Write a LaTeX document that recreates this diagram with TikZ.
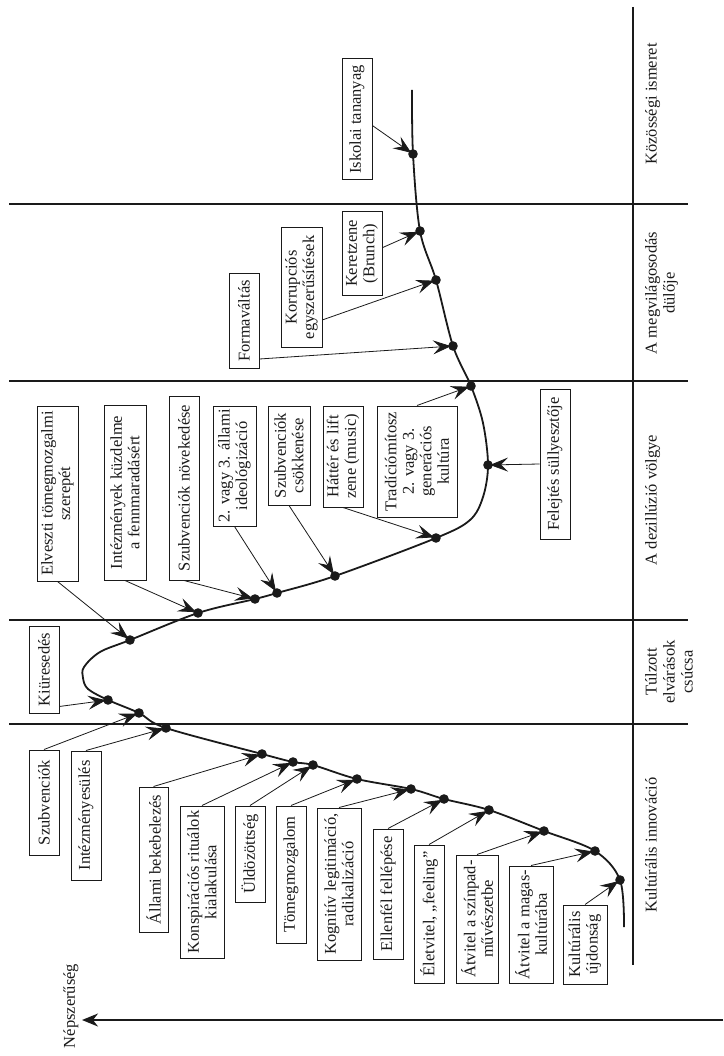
\documentclass[tikz,border=0pt]{standalone}
\usepackage{fontspec}
\setmainfont{Liberation Serif}
\usetikzlibrary{arrows.meta,calc}
\definecolor{ink}{HTML}{1A1A1A}
\begin{document}
\begin{tikzpicture}[x=1pt,y=-1pt,
  lbl/.style={draw=ink, line width=1pt, rotate=90, align=center, inner sep=2pt,
    font=\fontsize{16.5}{17.5}\selectfont, text=ink},
  stage/.style={rotate=90, align=center, anchor=north, inner sep=0pt,
    font=\fontsize{16.5}{18}\selectfont, text=ink},
  conn/.style={draw=ink, line width=0.8pt, -{Stealth[length=18pt,width=14pt,inset=7pt]}, shorten >=2pt},
  frame/.style={draw=ink, line width=1.5pt},
  curve/.style={draw=ink, line width=1.8pt}]
\useasboundingbox (0,0) rectangle (723,1056);
\fill[white] (0,0) rectangle (723,1056);

% frame lines
\draw[frame] (633,7) -- (633,965);
\foreach \yy in {204,381,620,724} \draw[frame] (9,\yy) -- (688,\yy);
\coordinate (axR) at (723,1020);
\coordinate (axL) at (82,1020);
\draw[frame, -{Stealth[length=16pt,width=13pt,inset=5pt]}] (axR) -- (axL);
\node[stage, anchor=center] (pop) at (71,1006) {Népszerűség};

% stage labels
\node[stage] (s1) at (645,104) {Közösségi ismeret};
\node[stage] (s2) at (645,293) {A megvilágosodás\\dülője};
\node[stage] (s3) at (645,500) {A dezillúzió völgye};
\node[stage] (s4) at (645,672) {Túlzott\\elvárások\\csúcsa};
\node[stage] (s5) at (645,845) {Kultúrális innováció};

% curve points
\coordinate (c0) at (412,90);
\coordinate (d1) at (413,154);
\coordinate (d2) at (420,231);
\coordinate (d3) at (436,280);
\coordinate (d4) at (453,346);
\coordinate (d5) at (471,386);
\coordinate (d6) at (488,465);
\coordinate (d7) at (436,538);
\coordinate (d8) at (335,576);
\coordinate (d9) at (277,593);
\coordinate (d10) at (255,599);
\coordinate (d11) at (198,613);
\coordinate (d12) at (130,640);
\coordinate (d13) at (108,700);
\coordinate (d14) at (139,713);
\coordinate (d15) at (166,728);
\coordinate (d16) at (262,754);
\coordinate (d17) at (293,762);
\coordinate (d18) at (313,765);
\coordinate (d19) at (357,779);
\coordinate (d20) at (411,789);
\coordinate (d21) at (444,799);
\coordinate (d22) at (489,810);
\coordinate (d23) at (544,831);
\coordinate (d24) at (595,851);
\coordinate (d25) at (620,880);
\coordinate (c1) at (624,927);

\draw[curve] plot[smooth, tension=0.55] coordinates {
 (c0) (d1) (d2) (d3) (d4) (d5) (483,423) (d6) (483,497) (470,520) (d7) (d8) (d9) (d10) (d11) (d12)
 (100,652) (84,667) (83,678) (88,689) (d13) (d14) (d15) (d16) (d17) (d18) (d19) (d20) (d21) (d22) (d23) (d24) (d25) (c1)};
\foreach \i in {1,...,25} \fill[ink] (d\i) circle (4.8pt);

% label boxes
\node[lbl, minimum width=105pt, minimum height=30pt] (b14) at (44,802.5) {Szubvenciók};
\node[lbl, minimum width=129pt, minimum height=30pt] (b15) at (86,815.5) {Intézményesülés};
\node[lbl, minimum width=87pt, minimum height=30pt] (b13) at (44,669.5) {Kiüresedés};
\node[lbl, minimum width=145pt, minimum height=29pt] (b16) at (153.5,859.5) {Állami bekebelezés};
\node[lbl, minimum width=152pt, minimum height=44pt] (b17) at (202,882) {Konspirációs rituálok\\kialakulása};
\node[lbl, minimum width=96pt, minimum height=30pt] (b18) at (250,854) {Üldözöttség};
\node[lbl, minimum width=137pt, minimum height=30pt] (b19) at (291,874.5) {Tömegmozgalom};
\node[lbl, minimum width=152pt, minimum height=44pt] (b20) at (339,884) {Kognitív legitimáció,\\radikalizáció};
\node[lbl, minimum width=130pt, minimum height=30pt] (b21) at (388,894) {Ellenfél fellépése};
\node[lbl, minimum width=138pt, minimum height=30pt] (b22) at (429,914) {Életvitel, „feeling”};
\node[lbl, minimum width=128pt, minimum height=42pt] (b23) at (477,919) {Átvitel a színpad-\\művészetbe};
\node[lbl, minimum width=117pt, minimum height=44pt] (b24) at (531,924.5) {Átvitel a magas-\\kultúrába};
\node[lbl, minimum width=79pt, minimum height=44pt] (b25) at (585,944.5) {Kultúrális\\újdonság};
\node[lbl, minimum width=175pt, minimum height=41pt] (b12) at (57.5,493.5) {Elveszti tömegmozgalmi\\szerepét};
\node[lbl, minimum width=175pt, minimum height=42pt] (b11) at (125,492.5) {Intézmények küzdelme\\a fennmaradásért};
\node[lbl, minimum width=184pt, minimum height=30pt] (b10) at (184,488) {Szubvenciók növekedése};
\node[lbl, minimum width=120pt, minimum height=43pt] (b9) at (234.5,466) {2. vagy 3. állami\\ideológizáció};
\node[lbl, minimum width=99pt, minimum height=42pt] (b8) at (289,455.5) {Szubvenciók\\csökkenése};
\node[lbl, minimum width=101pt, minimum height=40pt] (b7) at (343,456.5) {Háttér és lift\\zene (music)};
\node[lbl, minimum width=111pt, minimum height=80pt] (b5) at (417,461.5) {Tradíciómítosz\\2. vagy 3.\\generációs\\kultúra};
\node[lbl, minimum width=150pt, minimum height=30pt] (b6) at (555,464) {Felejtés süllyesztője};
\node[lbl, minimum width=94pt, minimum height=30pt] (b4) at (244,321) {Formaváltás};
\node[lbl, minimum width=119pt, minimum height=41pt] (b3) at (301.5,287.5) {Korrupciós\\egyszerűsítések};
\node[lbl, minimum width=83pt, minimum height=40pt] (b2) at (362,253.5) {Keretzene\\(Brunch)};
\node[lbl, minimum width=121pt, minimum height=30pt] (b1) at (357,119.5) {Iskolai tananyag};

% connectors
\foreach \i in {14,15,16,17,18,19,20,21,22,23,24,25,5} \draw[conn] (b\i.east) -- (d\i);
\foreach \i in {12,11,10,9,8,7} \draw[conn] (b\i.west) -- (d\i);
\draw[conn] (b6.north) -- (d6);
\draw[conn] ($(b13.south west)!0.08!(b13.south east)$) -- (d13);
\draw[conn] ($(b4.south west)!0.1!(b4.south east)$) -- (d4);
\draw[conn] ($(b3.south west)!0.23!(b3.south east)$) -- (d3);
\draw[conn] ($(b2.south west)!0.57!(b2.south east)$) -- (d2);
\draw[conn] ($(b1.south west)!0.45!(b1.south east)$) -- (d1);
\end{tikzpicture}
\end{document}
